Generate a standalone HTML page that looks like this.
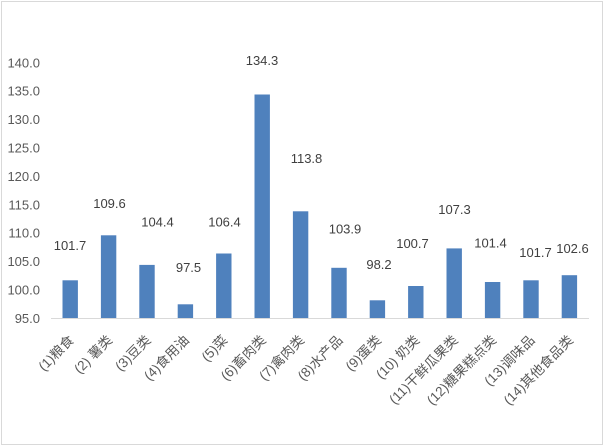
<!DOCTYPE html>
<html><head><meta charset="utf-8"><style>
html,body{margin:0;padding:0;background:#fff;}
svg{display:block;}
text{font-family:"Liberation Sans","Noto Sans CJK SC",sans-serif;}
</style></head><body>
<svg width="604" height="446" viewBox="0 0 604 446" xmlns="http://www.w3.org/2000/svg">
<rect x="0" y="0" width="604" height="446" fill="#fff"/>
<rect x="1.5" y="1.5" width="601" height="443" fill="none" stroke="#d9d9d9" stroke-width="1"/>
<!-- y axis labels -->
<g font-size="13" fill="#595959" text-anchor="end">
<text x="40" y="322.9">95.0</text>
<text x="40" y="294.5">100.0</text>
<text x="40" y="266.1">105.0</text>
<text x="40" y="237.7">110.0</text>
<text x="40" y="209.3">115.0</text>
<text x="40" y="180.9">120.0</text>
<text x="40" y="152.5">125.0</text>
<text x="40" y="124.1">130.0</text>
<text x="40" y="95.7">135.0</text>
<text x="40" y="67.3">140.0</text>
</g>
<!-- bars -->
<g fill="#4f81bd">
<rect x="62.5" y="280.3" width="15.4" height="38.2"/>
<rect x="100.9" y="235.3" width="15.4" height="83.2"/>
<rect x="139.3" y="264.9" width="15.4" height="53.6"/>
<rect x="177.7" y="304.3" width="15.4" height="14.2"/>
<rect x="216.1" y="253.5" width="15.4" height="65.0"/>
<rect x="254.5" y="94.5" width="15.4" height="224.0"/>
<rect x="292.9" y="211.3" width="15.4" height="107.2"/>
<rect x="331.3" y="267.8" width="15.4" height="50.7"/>
<rect x="369.7" y="300.3" width="15.4" height="18.2"/>
<rect x="408.1" y="286.0" width="15.4" height="32.5"/>
<rect x="446.5" y="248.4" width="15.4" height="70.1"/>
<rect x="484.9" y="282.0" width="15.4" height="36.5"/>
<rect x="523.3" y="280.3" width="15.4" height="38.2"/>
<rect x="561.7" y="275.2" width="15.4" height="43.3"/>
</g>
<line x1="51" y1="318.5" x2="589" y2="318.5" stroke="#d9d9d9" stroke-width="1"/>
<!-- data labels -->
<g font-size="13" fill="#404040" text-anchor="middle">
<text x="70" y="250.1">101.7</text>
<text x="109.5" y="208.1">109.6</text>
<text x="157.5" y="226.6">104.4</text>
<text x="188.5" y="272.1">97.5</text>
<text x="224.5" y="226.6">106.4</text>
<text x="262" y="65.1">134.3</text>
<text x="306.5" y="163.1">113.8</text>
<text x="345" y="233.6">103.9</text>
<text x="379" y="269.1">98.2</text>
<text x="412.5" y="248.1">100.7</text>
<text x="454.5" y="214.1">107.3</text>
<text x="490.5" y="247.6">101.4</text>
<text x="535.5" y="257.1">101.7</text>
<text x="572.5" y="253.1">102.6</text>
</g>
<!-- x labels -->
<g font-size="13.5" fill="#595959" text-anchor="end">
<text transform="translate(74.7,341) rotate(-45)">(1)粮食</text>
<text transform="translate(113.1,341) rotate(-45)">(2) 薯类</text>
<text transform="translate(151.5,341) rotate(-45)">(3)豆类</text>
<text transform="translate(189.9,341) rotate(-45)">(4)食用油</text>
<text transform="translate(228.3,341) rotate(-45)">(5)菜</text>
<text transform="translate(266.7,341) rotate(-45)">(6)畜肉类</text>
<text transform="translate(305.1,341) rotate(-45)">(7)禽肉类</text>
<text transform="translate(343.5,341) rotate(-45)">(8)水产品</text>
<text transform="translate(381.9,341) rotate(-45)">(9)蛋类</text>
<text transform="translate(420.3,341) rotate(-45)">(10) 奶类</text>
<text transform="translate(458.7,341) rotate(-45)">(11)干鲜瓜果类</text>
<text transform="translate(497.1,341) rotate(-45)">(12)糖果糕点类</text>
<text transform="translate(535.5,341) rotate(-45)">(13)调味品</text>
<text transform="translate(573.9,341) rotate(-45)">(14)其他食品类</text>
</g>
</svg>
</body></html>
